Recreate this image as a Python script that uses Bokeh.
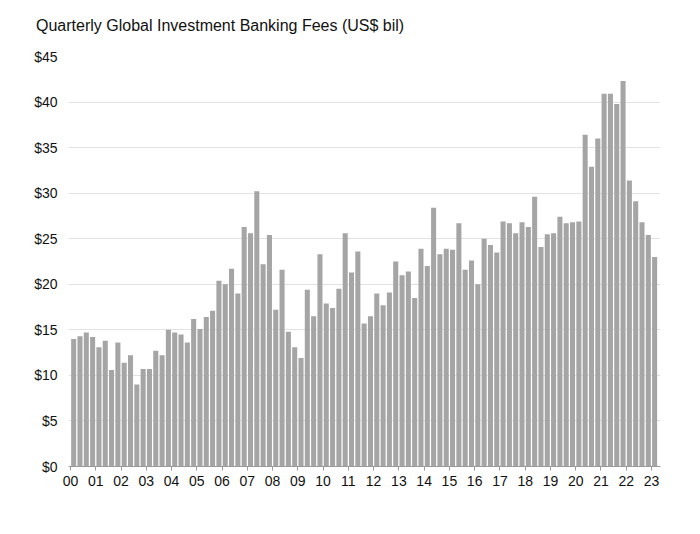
from bokeh.plotting import figure
from bokeh.models import FixedTicker, ColumnDataSource, Div
from bokeh.layouts import column
from bokeh.embed import file_html
from bokeh.resources import INLINE

years = ["00", "01", "02", "03", "04", "05", "06", "07", "08", "09", "10", "11",
         "12", "13", "14", "15", "16", "17", "18", "19", "20", "21", "22", "23"]

fees = [
    14.0, 14.3, 14.7, 14.2,   # 2000
    13.1, 13.8, 10.6, 13.6,   # 2001
    11.4, 12.2, 9.0, 10.7,    # 2002
    10.7, 12.7, 12.2, 15.0,   # 2003
    14.7, 14.5, 13.6, 16.2,   # 2004
    15.1, 16.4, 17.1, 20.4,   # 2005
    20.0, 21.7, 19.0, 26.3,   # 2006
    25.6, 30.2, 22.2, 25.4,   # 2007
    17.2, 21.6, 14.8, 13.1,   # 2008
    11.9, 19.4, 16.5, 23.3,   # 2009
    17.9, 17.4, 19.5, 25.6,   # 2010
    21.3, 23.6, 15.7, 16.5,   # 2011
    19.0, 17.7, 19.1, 22.5,   # 2012
    21.0, 21.4, 18.5, 23.9,   # 2013
    22.0, 28.4, 23.3, 23.9,   # 2014
    23.8, 26.7, 21.6, 22.6,   # 2015
    20.0, 25.0, 24.3, 23.5,   # 2016
    26.9, 26.7, 25.6, 26.8,   # 2017
    26.3, 29.6, 24.1, 25.5,   # 2018
    25.6, 27.4, 26.7, 26.8,   # 2019
    26.9, 36.4, 32.9, 36.0,   # 2020
    40.9, 40.9, 39.8, 42.3,   # 2021
    31.4, 29.1, 26.8, 25.4,   # 2022
    23.0,                     # 2023
]

y_ticks = [0, 5, 10, 15, 20, 25, 30, 35, 40, 45]
y_labels = ["$0", "$5", "$10", "$15", "$20", "$25", "$30", "$35", "$40", "$45"]

title_text = "Quarterly Global Investment Banking Fees (US$ bil)"

FONT = "Liberation Sans"

title_div = Div(
    text=('<div style="margin:0; padding:17px 0 0 36px; font-family:\'Liberation Sans\';'
          ' font-size:16px; line-height:18px; color:#111111; white-space:nowrap;">'
          + title_text + '</div>'),
    width=700, height=40, margin=(0, 0, 0, 0), disable_math=True)

src = ColumnDataSource(dict(x=list(range(len(fees))), top=fees))

p = figure(width=700, height=494, output_backend="svg", toolbar_location=None,
           x_range=(-0.82, 92.93), y_range=(0, 45),
           min_border_left=68, min_border_right=40, min_border_top=16,
           min_border_bottom=68, margin=(0, 0, 0, 0))

p.vbar(x="x", top="top", bottom=0, width=0.8, source=src,
       fill_color="#a5a5a5", line_color=None)

p.outline_line_color = None
p.background_fill_color = "white"
p.border_fill_color = "white"

p.xgrid.grid_line_color = None
p.ygrid.grid_line_color = "#e2e2e2"
p.ygrid.grid_line_width = 1

# y axis
p.yaxis.ticker = FixedTicker(ticks=y_ticks)
p.yaxis.major_label_overrides = {t: l for t, l in zip(y_ticks, y_labels)}
p.yaxis.axis_line_color = None
p.yaxis.major_tick_line_color = None
p.yaxis.major_tick_out = 0
p.yaxis.major_tick_in = 0
p.yaxis.minor_tick_line_color = None
p.yaxis.major_label_text_font = FONT
p.yaxis.major_label_text_font_size = "14px"
p.yaxis.major_label_text_color = "#111111"
p.yaxis.major_label_standoff = 11

# x axis: ticks at year boundaries
x_ticks = [4 * k - 0.5 for k in range(len(years))]
p.xaxis.ticker = FixedTicker(ticks=x_ticks)
p.xaxis.major_label_overrides = {t: l for t, l in zip(x_ticks, years)}
p.xaxis.axis_line_color = "#9a9a9a"
p.xaxis.major_tick_line_color = "#9a9a9a"
p.xaxis.major_tick_out = 4
p.xaxis.major_tick_in = 0
p.xaxis.minor_tick_line_color = None
p.xaxis.major_label_text_font = FONT
p.xaxis.major_label_text_font_size = "14px"
p.xaxis.major_label_text_color = "#111111"
p.xaxis.major_label_standoff = 5

layout = column(title_div, p, spacing=0)

open("out.html", "w").write(file_html(layout, INLINE))
